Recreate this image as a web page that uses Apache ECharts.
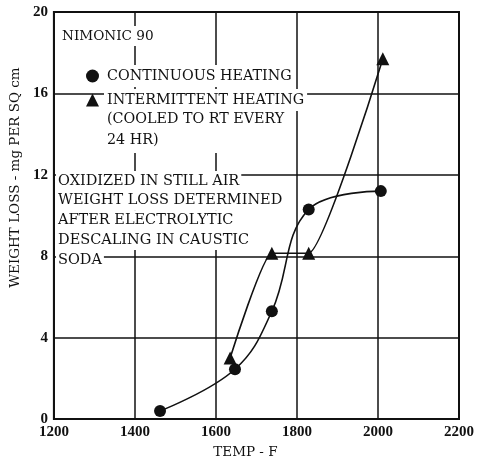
<!DOCTYPE html>
<html><head><meta charset="utf-8">
<script src="https://cdn.jsdelivr.net/npm/echarts@6/dist/echarts.min.js"></script>
<style>html,body{margin:0;padding:0;background:#fff}#c{width:477px;height:464px}</style>
</head><body><div id="c"></div>
<script>
// data
const continuousTemp = [1462, 1647, 1738, 1829, 2007];
const continuousLoss = [0.4, 2.45, 5.3, 10.3, 11.2];
const intermittentTemp = [1635, 1738, 1829, 2012];
const intermittentLoss = [3.0, 8.15, 8.15, 17.7];
const xTicks = [1200, 1400, 1600, 1800, 2000, 2200];
const yTicks = [0, 4, 8, 12, 16, 20];
const noteLines = ['OXIDIZED IN STILL AIR', 'WEIGHT LOSS DETERMINED', 'AFTER ELECTROLYTIC', 'DESCALING IN CAUSTIC', 'SODA'];

const FONT = 'DejaVu Serif';
const LFONT = 'Liberation Serif';
const chart = echarts.init(document.getElementById('c'), null, {renderer: 'canvas'});
const pairs = (xs, ys) => xs.map((x, i) => [x, ys[i]]);
const noteGraphics = noteLines.map((t, i) => ({
  type: 'text', left: 56, top: 171 + i * 19.7, z: 10,
  style: {text: t, font: '14.5px "' + FONT + '"', lineHeight: 16, fill: '#111', backgroundColor: '#fff', padding: [2, 2, 2, 2]}
}));
chart.setOption({
  animation: false,
  backgroundColor: '#fff',
  grid: {left: 53, right: 17, top: 12, bottom: 44, show: true, borderColor: '#111', borderWidth: 2},
  xAxis: {
    type: 'value', min: xTicks[0], max: xTicks[xTicks.length - 1], interval: 200,
    name: 'TEMP - F', nameLocation: 'middle', nameGap: 25,
    nameTextStyle: {fontFamily: FONT, fontSize: 13.5, color: '#111', padding: [0, 22, 0, 0]},
    axisLine: {show: true, lineStyle: {color: '#111', width: 2}},
    axisTick: {show: false},
    axisLabel: {fontFamily: LFONT, fontSize: 15, fontWeight: 'bold', color: '#111', margin: 6,
                formatter: v => String(v)},
    splitLine: {show: true, lineStyle: {color: '#111', width: 1.5}}
  },
  yAxis: {
    type: 'value', min: yTicks[0], max: yTicks[yTicks.length - 1], interval: 4,
    name: 'WEIGHT LOSS - mg PER SQ cm', nameLocation: 'middle', nameGap: 28, nameRotate: 90,
    nameTextStyle: {fontFamily: FONT, fontSize: 13.5, color: '#111', padding: [0, 0, 0, 76]},
    axisLine: {show: true, lineStyle: {color: '#111', width: 2}},
    axisTick: {show: false},
    axisLabel: {fontFamily: LFONT, fontSize: 15, fontWeight: 'bold', color: '#111', margin: 6,
                formatter: v => String(v)},
    splitLine: {show: true, lineStyle: {color: '#111', width: 1.5}}
  },
  legend: {
    orient: 'vertical', left: 81, top: 60, itemGap: 2, itemWidth: 13, itemHeight: 13,
    textStyle: {fontFamily: FONT, fontSize: 14.3, lineHeight: 16, color: '#111', backgroundColor: '#fff', padding: [3, 3, 3, 3]},
    data: [{name: 'CONTINUOUS HEATING', icon: 'circle'}, {name: 'INTERMITTENT HEATING', icon: 'triangle'}]
  },
  graphic: [
    {type: 'text', left: 60, top: 26, z: 10,
     style: {text: 'NIMONIC 90', font: '13.6px "' + FONT + '"', lineHeight: 16, fill: '#111', backgroundColor: '#fff', padding: [2, 2, 2, 2]}},
    {type: 'text', left: 104, top: 109, z: 10,
     style: {text: '(COOLED TO RT EVERY\n24 HR)', font: '14.3px "' + FONT + '"', lineHeight: 21, fill: '#111', backgroundColor: '#fff', padding: [0, 3, 2, 3]}}
  ].concat(noteGraphics),
  series: [
    {name: 'CONTINUOUS HEATING', type: 'line', data: pairs(continuousTemp, continuousLoss),
     smooth: 0.4, symbol: 'circle', symbolSize: 12,
     itemStyle: {color: '#111'}, lineStyle: {color: '#111', width: 1.6}},
    {name: 'INTERMITTENT HEATING', type: 'line', data: pairs(intermittentTemp, intermittentLoss),
     smooth: 0.15, symbol: 'triangle', symbolSize: 13,
     itemStyle: {color: '#111'}, lineStyle: {color: '#111', width: 1.6}}
  ]
});
</script></body></html>
